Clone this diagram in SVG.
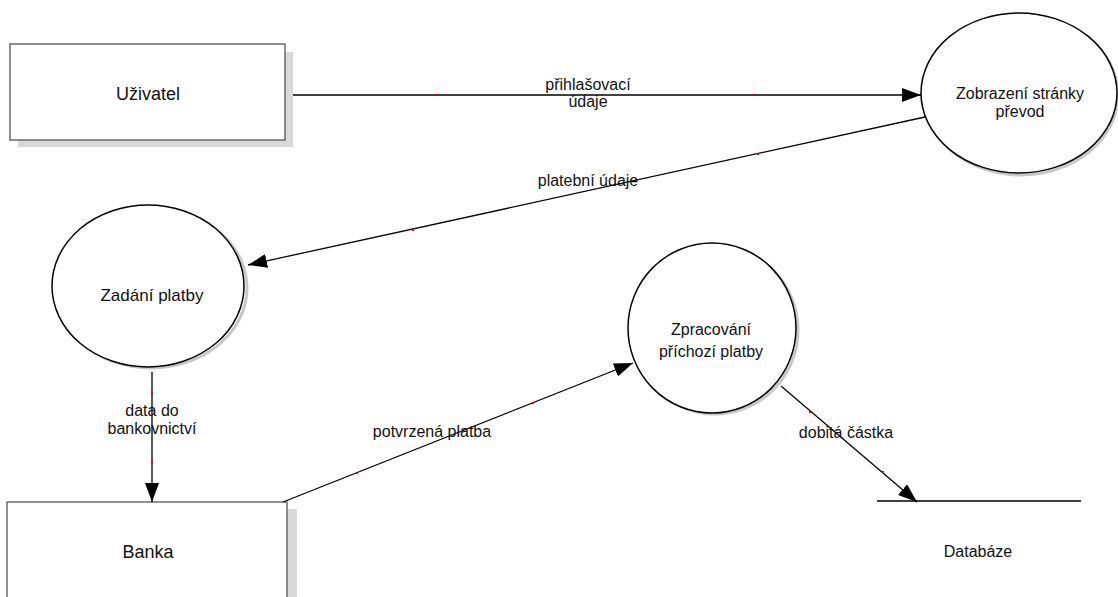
<svg xmlns="http://www.w3.org/2000/svg" width="1118" height="597" viewBox="0 0 1118 597">
<defs>
<style>
text{font-family:"Liberation Sans",Arial,sans-serif;fill:#111;text-anchor:middle}
.lbl{font-size:16px}
.big{font-size:18px}
.box{fill:#fff;stroke:#555;stroke-width:1.3}
.shadow{fill:#d9d9d9}
.ell{fill:#fff;stroke:#000;stroke-width:1.5}
.eshadow{fill:none;stroke:#c8c8c8;stroke-width:3}
.con{stroke:#000;stroke-width:1.3;fill:none}
.dot{fill:#e00000}
</style>
<marker id="arr" markerUnits="userSpaceOnUse" markerWidth="20" markerHeight="14" refX="19" refY="7" orient="auto">
<path d="M0,0 L19,7 L0,14 z" fill="#000"/>
</marker>
</defs>
<rect width="1118" height="597" fill="#fff"/>

<g id="uzivatel">
<rect class="shadow" x="18" y="52" width="275" height="95"/>
<rect class="box" x="10" y="44" width="275" height="96"/>
<text class="big" x="148" y="100">Uživatel</text>
</g>

<g id="banka">
<rect class="shadow" x="17" y="509" width="280" height="100"/>
<rect class="box" x="7" y="502" width="280" height="110"/>
<text class="big" x="148" y="558">Banka</text>
</g>

<g id="zobrazeni">
<ellipse class="eshadow" cx="1021" cy="95" rx="97" ry="80"/>
<ellipse class="ell" cx="1019" cy="93" rx="98" ry="80"/>
<text class="lbl" x="1020" y="99">Zobrazení stránky</text>
<text class="lbl" x="1020" y="117">převod</text>
</g>

<g id="zadani">
<ellipse class="eshadow" cx="151" cy="288" rx="96" ry="80"/>
<ellipse class="ell" cx="148" cy="286" rx="96" ry="81"/>
<text class="lbl" style="font-size:17px" x="152" y="301">Zadání platby</text>
</g>

<g id="zpracovani">
<ellipse class="eshadow" cx="715" cy="330" rx="83" ry="84"/>
<ellipse class="ell" cx="712" cy="328" rx="84" ry="85"/>
<text class="lbl" x="711" y="335">Zpracování</text>
<text class="lbl" x="711" y="357">příchozí platby</text>
</g>

<g id="databaze">
<line x1="877" y1="501" x2="1081" y2="501" stroke="#000" stroke-width="1.5"/>
<text class="lbl" x="978" y="557">Databáze</text>
</g>

<g id="connectors">
<line class="con" x1="293" y1="95" x2="921" y2="95" marker-end="url(#arr)"/>
<line class="con" x1="925" y1="117" x2="248" y2="265" marker-end="url(#arr)"/>
<line class="con" x1="152" y1="372" x2="152" y2="502" marker-end="url(#arr)"/>
<line class="con" x1="283" y1="502" x2="633" y2="363" marker-end="url(#arr)"/>
<line class="con" x1="781" y1="386" x2="917" y2="502" marker-end="url(#arr)"/>
<rect class="dot" x="435" y="94" width="2" height="2"/>
<rect class="dot" x="753" y="94" width="2" height="2"/>
<rect class="dot" x="757" y="153" width="2" height="2"/>
<rect class="dot" x="412" y="229" width="2" height="2"/>
<rect class="dot" x="151" y="392" width="2" height="2"/>
<rect class="dot" x="151" y="461" width="2" height="2"/>
<rect class="dot" x="356" y="472" width="2" height="2"/>
<rect class="dot" x="532" y="402" width="2" height="2"/>
<rect class="dot" x="809" y="411" width="2" height="2"/>
<rect class="dot" x="882" y="471" width="2" height="2"/>
<text class="lbl" x="588" y="90">přihlašovací</text>
<text class="lbl" x="588" y="107">údaje</text>
<text class="lbl" x="588" y="186">platební údaje</text>
<text class="lbl" x="152" y="416">data do</text>
<text class="lbl" x="152" y="434">bankovnictví</text>
<text class="lbl" x="432" y="437">potvrzená platba</text>
<text class="lbl" x="846" y="438">dobitá částka</text>
</g>
</svg>
